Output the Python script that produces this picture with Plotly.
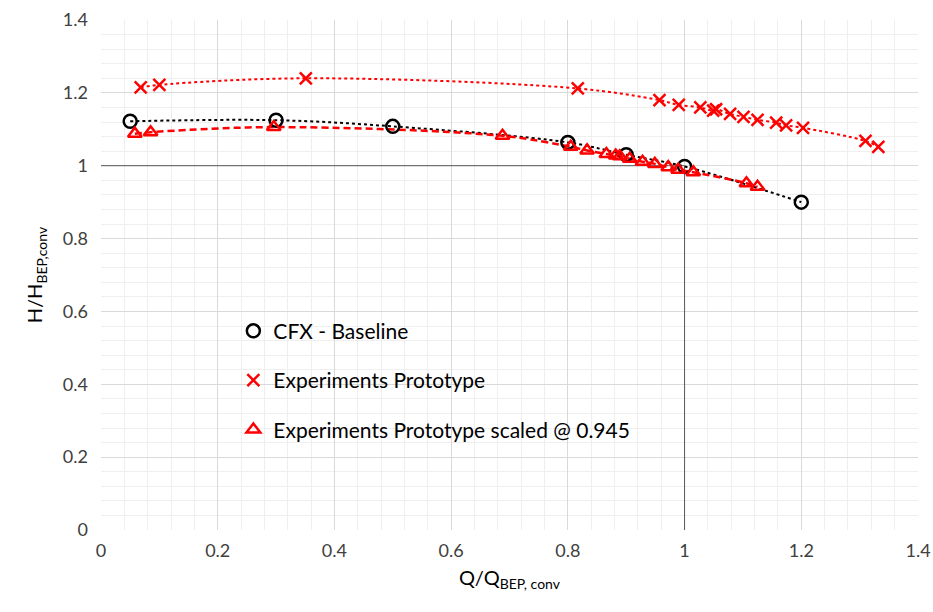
import plotly.graph_objects as go

# CFX baseline
cfx_q = [0.05, 0.30, 0.50, 0.80, 0.90, 1.00, 1.20]
cfx_h = [1.122, 1.125, 1.108, 1.064, 1.030, 0.998, 0.900]

# Experiments prototype
exp_q = [0.068, 0.10, 0.351, 0.817, 0.957, 0.990, 1.027, 1.049, 1.054, 1.078, 1.101,
         1.125, 1.157, 1.174, 1.203, 1.310, 1.332]
exp_h = [1.215, 1.222, 1.240, 1.212, 1.180, 1.167, 1.160, 1.151, 1.155, 1.142, 1.134,
         1.126, 1.118, 1.111, 1.104, 1.068, 1.052]

# Experiments prototype scaled @ 0.945
sc_q = [0.058, 0.085, 0.296, 0.688, 0.805, 0.833, 0.866, 0.882, 0.889, 0.906, 0.928,
        0.949, 0.972, 0.989, 1.015, 1.106, 1.125]
sc_h = [1.088, 1.092, 1.106, 1.082, 1.052, 1.042, 1.032, 1.028, 1.026, 1.019, 1.011,
        1.005, 0.996, 0.989, 0.982, 0.952, 0.942]

# BEP reference lines
ref_q = [0, 1, 1]
ref_h = [1, 1, 0]

x_ticks = [0, 0.2, 0.4, 0.6, 0.8, 1, 1.2, 1.4]
y_ticks = [0, 0.2, 0.4, 0.6, 0.8, 1, 1.2, 1.4]

FONT = "Lato, 'Open Sans', sans-serif"
RED = "#ff0000"

fig = go.Figure()

fig.add_trace(go.Scatter(x=ref_q, y=ref_h, mode="lines",
                         line=dict(color="#595959", width=1), showlegend=False,
                         hoverinfo="skip"))

# trend lines
fig.add_trace(go.Scatter(x=exp_q, y=exp_h, mode="lines", line_shape="spline",
                         line=dict(color=RED, width=2, dash="dot"), showlegend=False))
fig.add_trace(go.Scatter(x=cfx_q, y=cfx_h, mode="lines", line_shape="spline",
                         line=dict(color="black", width=2, dash="dot"), showlegend=False))
fig.add_trace(go.Scatter(x=sc_q, y=sc_h, mode="lines", line_shape="spline",
                         line=dict(color=RED, width=2.5, dash="7px,4px"), showlegend=False))

# markers
fig.add_trace(go.Scatter(x=cfx_q, y=cfx_h, mode="markers", name="CFX - Baseline",
                         legendgroup="a",
                         marker=dict(symbol="circle-open", size=13, color="black",
                                     line=dict(width=2.5, color="black"))))
fig.add_trace(go.Scatter(x=exp_q, y=exp_h, mode="markers", name="Experiments Prototype",
                         legendgroup="b",
                         marker=dict(symbol="x-thin-open", size=12, color=RED,
                                     line=dict(width=2.5, color=RED))))
fig.add_trace(go.Scatter(x=sc_q, y=sc_h, mode="markers",
                         name="Experiments Prototype scaled @ 0.945", legendgroup="c",
                         marker=dict(symbol="triangle-up-open", size=12, color=RED,
                                     line=dict(width=2.5, color=RED))))

fig.update_layout(
    width=933, height=612,
    margin=dict(l=101, r=15, t=20, b=82),
    paper_bgcolor="white", plot_bgcolor="white",
    font=dict(family=FONT, size=18, color="#000000"),
    showlegend=True,
    legend=dict(x=0.162, y=0.43, xanchor="left", yanchor="top",
                bgcolor="rgba(0,0,0,0)", font=dict(size=21, family=FONT),
                tracegroupgap=19, itemwidth=30),
    xaxis=dict(range=[0, 1.4], tickvals=x_ticks, ticktext=[str(v) for v in x_ticks],
               showgrid=True, gridcolor="#d9d9d9", gridwidth=1,
               minor=dict(dtick=0.04, showgrid=True, gridcolor="#efefef", gridwidth=1),
               zeroline=False, showline=False, ticks="", ticklabeloverflow="allow",
               automargin=False, ticklabelstandoff=8,
               tickfont=dict(size=18, color="#404040"),
               title=dict(text="Q/Q<sub>BEP, conv</sub>", font=dict(size=20), standoff=10)),
    yaxis=dict(range=[0, 1.4], tickvals=y_ticks, ticktext=[str(v) for v in y_ticks],
               showgrid=True, gridcolor="#d9d9d9", gridwidth=1,
               minor=dict(dtick=0.04, showgrid=True, gridcolor="#efefef", gridwidth=1),
               zeroline=False, showline=False, ticks="", ticklabeloverflow="allow",
               automargin=False, ticklabelstandoff=12,
               tickfont=dict(size=18, color="#404040"),
               title=dict(text="H/H<sub>BEP,conv</sub>", font=dict(size=20), standoff=14)),
)

fig.write_html("out.html")
